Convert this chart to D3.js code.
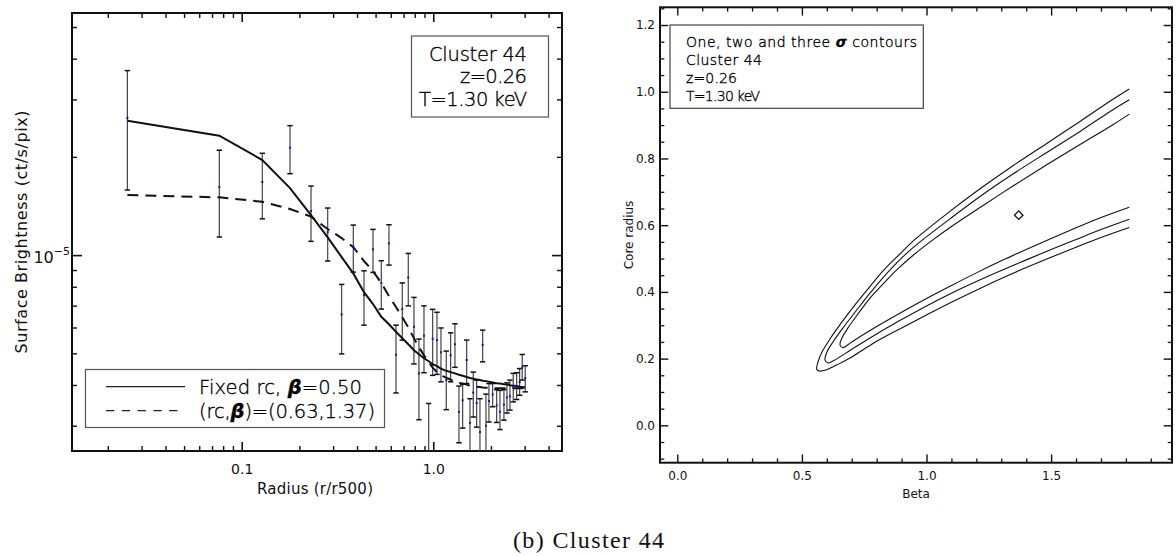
<!DOCTYPE html>
<html>
<head>
<meta charset="utf-8">
<script src="https://cdn.jsdelivr.net/npm/d3@7"></script>
<style>
  body { margin: 0; background: #fff; }
  svg { display: block; }
</style>
</head>
<body>
<svg id="chart" width="1176" height="556"></svg>
<script>
// ---------- surface brightness profile (left panel) ----------
const unit = 1e-5;
const radius = [0.0253, 0.0764, 0.1281, 0.1787, 0.2300, 0.2811, 0.3324, 0.3824, 0.4348, 0.4845,
  0.5354, 0.5870, 0.6389, 0.6891, 0.7406, 0.7929, 0.8420, 0.8943, 0.9463, 0.9928,
  1.0455, 1.0969, 1.1691, 1.2324, 1.2979, 1.3618, 1.4236, 1.4938, 1.5543, 1.6175,
  1.6849, 1.7530, 1.8108, 1.8842, 1.9529, 2.0418, 2.1424, 2.2289, 2.3388, 2.4248,
  2.5135, 2.6152, 2.7246, 2.8243, 2.9141, 3.0210];
const brightness = [2.632, 1.616, 1.675, 2.134, 1.365, 1.176, 0.658, 1.063, 0.754, 1.041,
  0.822, 1.086, 0.495, 0.683, 0.854, 0.603, 0.434, 0.566, 0.251, 0.554,
  0.549, 0.504, 0.414, 0.493, 0.533, 0.331, 0.359, 0.477, 0.306, 0.379,
  0.352, 0.287, 0.531, 0.300, 0.357, 0.374, 0.346, 0.331, 0.348, 0.366,
  0.369, 0.395, 0.397, 0.408, 0.453, 0.420];
const errHigh = [3.676, 2.096, 2.051, 2.493, 1.628, 1.394, 0.813, 1.236, 0.895, 1.199,
  0.961, 1.239, 0.610, 0.822, 1.012, 0.742, 0.553, 0.699, 0.351, 0.682,
  0.668, 0.598, 0.508, 0.578, 0.616, 0.397, 0.402, 0.549, 0.363, 0.438,
  0.414, 0.363, 0.589, 0.375, 0.404, 0.404, 0.387, 0.385, 0.387, 0.406,
  0.414, 0.434, 0.436, 0.449, 0.496, 0.458];
const errLow = [1.583, 1.136, 1.292, 1.776, 1.102, 0.959, 0.498, 0.887, 0.610, 0.885,
  0.683, 0.932, 0.378, 0.549, 0.699, 0.464, 0.313, 0.436, 0.170, 0.428,
  0.431, 0.409, 0.336, 0.409, 0.453, 0.266, 0.295, 0.404, 0.240, 0.319,
  0.297, 0.220, 0.471, 0.230, 0.308, 0.343, 0.307, 0.292, 0.312, 0.328,
  0.335, 0.355, 0.361, 0.372, 0.414, 0.381];
// beta model with fixed core radius, beta = 0.50
const fixedModel = [2.582, 2.323, 1.956, 1.605, 1.326, 1.133, 0.986, 0.879, 0.770, 0.708,
  0.647, 0.614, 0.582, 0.556, 0.533, 0.511, 0.497, 0.483, 0.473, 0.463,
  0.457, 0.449, 0.442, 0.438, 0.434, 0.430, 0.427, 0.423, 0.420, 0.418,
  0.416, 0.414, 0.412, 0.411, 0.409, 0.407, 0.405, 0.404, 0.402, 0.401,
  0.399, 0.398, 0.397, 0.395, 0.394, 0.393];
// free fit, (rc, beta) = (0.63, 1.37)
const freeModel = [1.528, 1.503, 1.457, 1.384, 1.312, 1.202, 1.128, 1.058, 0.959, 0.893,
  0.821, 0.749, 0.693, 0.645, 0.601, 0.556, 0.522, 0.493, 0.470, 0.452,
  0.438, 0.428, 0.421, 0.415, 0.411, 0.406, 0.404, 0.401, 0.398, 0.397,
  0.395, 0.394, 0.393, 0.392, 0.392, 0.391, 0.391, 0.391, 0.391, 0.391,
  0.391, 0.391, 0.391, 0.391, 0.391, 0.391];
const radiusMajorTicks = [0.1, 1.0];
const brightnessMajorTicks = [1e-5];
const legendLabels = ["Fixed rc, ", "=0.50", "(rc,", ")=(0.63,1.37)"];
const infoLines = ["Cluster 44", "z=0.26", "T=1.30 keV"];

// ---------- chi-square contours in the (beta, rc) plane (right panel) ----------
// each contour runs from the upper branch end, round the tip, to the lower branch end
const sigma3 = [[1.8138,1.008],[1.7496,0.978],[1.6160,0.911],[1.4823,0.845],[1.3483,0.779],[1.2147,0.709],
  [1.0811,0.634],[0.9470,0.553],[0.8937,0.514],[0.8255,0.463],[0.7653,0.409],[0.7131,0.361],[0.6609,0.310],
  [0.6128,0.259],[0.5807,0.220],[0.5646,0.190],[0.5594,0.168],[0.5686,0.163],[0.5967,0.166],[0.65,0.185],
  [0.70,0.205],[0.80,0.252],[0.90,0.292],[1.0,0.331],[1.1,0.369],[1.2,0.405],[1.3,0.440],[1.4,0.473],
  [1.5,0.504],[1.6,0.534],[1.7,0.563],[1.8138,0.593]];
const sigma2 = [[1.8138,0.976],[1.7496,0.947],[1.6160,0.881],[1.4823,0.818],[1.3483,0.754],[1.2147,0.686],
  [1.0943,0.619],[0.9739,0.550],[0.9177,0.514],[0.8535,0.466],[0.7773,0.400],[0.7171,0.343],[0.6649,0.292],
  [0.6248,0.250],[0.6007,0.220],[0.5927,0.196],[0.6047,0.187],[0.63,0.195],[0.70,0.228],[0.80,0.274],
  [0.90,0.317],[1.0,0.358],[1.1,0.396],[1.2,0.431],[1.3,0.464],[1.4,0.496],[1.5,0.527],[1.6,0.557],
  [1.7,0.587],[1.8138,0.618]];
const sigma1 = [[1.8138,0.933],[1.7496,0.902],[1.6160,0.842],[1.4823,0.781],[1.3483,0.718],[1.2147,0.653],
  [1.10,0.596],[1.02,0.553],[0.95,0.512],[0.8804,0.466],[0.8335,0.430],[0.7773,0.385],[0.7251,0.334],
  [0.6849,0.292],[0.6609,0.262],[0.6529,0.241],[0.6649,0.233],[0.70,0.250],[0.80,0.296],[0.90,0.339],
  [1.0,0.380],[1.1,0.419],[1.2,0.457],[1.3,0.493],[1.4,0.527],[1.5,0.560],[1.6,0.592],[1.7,0.623],
  [1.8138,0.654]];
const bestFit = [1.37, 0.63];
const betaTicks = [0.0, 0.5, 1.0, 1.5];
const coreTicks = [0.0, 0.2, 0.4, 0.6, 0.8, 1.0, 1.2];
const contourInfo = ["One, two and three ", "\u03c3", " contours", "Cluster 44", "z=0.26", "T=1.30 keV"];
const caption = "(b) Cluster 44";

const SANS = "'DejaVu Sans', sans-serif";
const svg = d3.select("#chart").style("font-family", SANS);

function styleTicks(g, width) {
  g.select(".domain").remove();
  g.selectAll(".tick line").attr("stroke", "#111").attr("stroke-width", width);
}
function styleLabels(g, size) {
  g.selectAll("text").style("font-size", size + "px").style("font-family", SANS).attr("fill", "#111");
}
// thin, plot-style lettering used inside the boxes
function thin(t) {
  return t.style("font-weight", 200).attr("fill", "#000").attr("stroke", "#000").attr("stroke-width", 0.35);
}

// ================= left panel =================
const L = { x0: 72, x1: 562, y0: 13, y1: 451 };
const x = d3.scaleLog().domain([0.0130, 4.70]).range([L.x0, L.x1]);
const y = d3.scaleLog().domain([0.251e-5, 5.52e-5]).range([L.y1, L.y0]);
const isDecade = v => Math.abs(Math.log10(v) - Math.round(Math.log10(v))) < 1e-6;
const xMinor = x.ticks().filter(v => !isDecade(v));
const yMinor = y.ticks().filter(v => !isDecade(v));

const left = svg.append("g");
left.append("clipPath").attr("id", "clipL").append("rect")
  .attr("x", L.x0).attr("y", L.y0).attr("width", L.x1 - L.x0).attr("height", L.y1 - L.y0);

// ticks on all four sides
left.append("g").attr("transform", `translate(0,${L.y1})`)
  .call(d3.axisBottom(x).tickValues(xMinor).tickSize(-5).tickFormat(""))
  .call(g => styleTicks(g, 1.4));
left.append("g").attr("transform", `translate(0,${L.y1})`)
  .call(d3.axisBottom(x).tickValues(radiusMajorTicks).tickSize(-9).tickPadding(13).tickFormat(d3.format(".1f")))
  .call(g => styleTicks(g, 1.6))
  .call(g => styleLabels(g, 14));
left.append("g").attr("transform", `translate(0,${L.y0})`)
  .call(d3.axisTop(x).tickValues(xMinor).tickSize(-5).tickFormat(""))
  .call(g => styleTicks(g, 1.4));
left.append("g").attr("transform", `translate(0,${L.y0})`)
  .call(d3.axisTop(x).tickValues(radiusMajorTicks).tickSize(-9).tickFormat(""))
  .call(g => styleTicks(g, 1.6));
left.append("g").attr("transform", `translate(${L.x0},0)`)
  .call(d3.axisLeft(y).tickValues(yMinor).tickSize(-5).tickFormat(""))
  .call(g => styleTicks(g, 1.4));
left.append("g").attr("transform", `translate(${L.x0},0)`)
  .call(d3.axisLeft(y).tickValues(brightnessMajorTicks).tickSize(-10).tickFormat(""))
  .call(g => styleTicks(g, 1.6));
left.append("g").attr("transform", `translate(${L.x1},0)`)
  .call(d3.axisRight(y).tickValues(yMinor).tickSize(-5).tickFormat(""))
  .call(g => styleTicks(g, 1.4));
left.append("g").attr("transform", `translate(${L.x1},0)`)
  .call(d3.axisRight(y).tickValues(brightnessMajorTicks).tickSize(-10).tickFormat(""))
  .call(g => styleTicks(g, 1.6));

// 10^-5 label
brightnessMajorTicks.forEach(v => {
  const t = left.append("text").attr("x", 70).attr("y", y(v) + 7.5).attr("text-anchor", "end")
    .style("font-size", "16px").attr("fill", "#111");
  t.append("tspan").text("10");
  t.append("tspan").style("font-size", "11px").attr("dy", -8).text("\u2212" + Math.round(-Math.log10(v)));
});

left.append("rect").attr("x", L.x0).attr("y", L.y0).attr("width", L.x1 - L.x0).attr("height", L.y1 - L.y0)
  .attr("fill", "none").attr("stroke", "#111").attr("stroke-width", 2);

const plotL = left.append("g").attr("clip-path", "url(#clipL)");

// error bars
const pts = radius.map((r, i) => ({ r, v: brightness[i] * unit, lo: errLow[i] * unit, hi: errHigh[i] * unit }));
const bars = plotL.append("g");
bars.selectAll("line.err").data(pts).join("line").attr("class", "err")
  .attr("x1", d => x(d.r)).attr("x2", d => x(d.r))
  .attr("y1", d => y(d.lo)).attr("y2", d => y(d.hi))
  .attr("stroke", "#444").attr("stroke-width", 1.2);
bars.selectAll("line.capHi").data(pts).join("line").attr("class", "capHi")
  .attr("x1", d => x(d.r) - 2.7).attr("x2", d => x(d.r) + 2.7)
  .attr("y1", d => y(d.hi)).attr("y2", d => y(d.hi))
  .attr("stroke", "#111").attr("stroke-width", 1.5);
bars.selectAll("line.capLo").data(pts).join("line").attr("class", "capLo")
  .attr("x1", d => x(d.r) - 2.7).attr("x2", d => x(d.r) + 2.7)
  .attr("y1", d => y(d.lo)).attr("y2", d => y(d.lo))
  .attr("stroke", "#111").attr("stroke-width", 1.5);

// model curves
const modelLine = d3.line().x(d => x(d[0])).y(d => y(d[1] * unit));
plotL.append("path").datum(radius.map((r, i) => [r, fixedModel[i]]))
  .attr("d", modelLine).attr("fill", "none").attr("stroke", "#111").attr("stroke-width", 2);
plotL.append("path").datum(radius.map((r, i) => [r, freeModel[i]]))
  .attr("d", modelLine).attr("fill", "none").attr("stroke", "#111").attr("stroke-width", 2)
  .attr("stroke-dasharray", "11,7");

// data points
plotL.append("g").selectAll("rect").data(pts).join("rect")
  .attr("x", d => x(d.r) - 1).attr("y", d => y(d.v) - 1).attr("width", 2).attr("height", 2)
  .attr("fill", "#1010c8");

// info box
left.append("rect").attr("x", 411.5).attr("y", 36).attr("width", 137).attr("height", 81)
  .attr("fill", "#fff").attr("stroke", "#555").attr("stroke-width", 1.2);
const infoWidths = [98, 67, 108];
infoLines.forEach((s, i) => {
  thin(left.append("text").attr("x", 527).attr("y", 60.5 + i * 22.8).attr("text-anchor", "end")
    .style("font-size", "19.5px").attr("textLength", infoWidths[i]).text(s));
});

// legend
left.append("rect").attr("x", 85.5).attr("y", 369.5).attr("width", 299).attr("height", 58)
  .attr("fill", "#fff").attr("stroke", "#555").attr("stroke-width", 1.2);
left.append("line").attr("x1", 106).attr("x2", 185).attr("y1", 386.7).attr("y2", 386.7)
  .attr("stroke", "#222").attr("stroke-width", 1.3);
left.append("line").attr("x1", 106).attr("x2", 179).attr("y1", 410.7).attr("y2", 410.7)
  .attr("stroke", "#222").attr("stroke-width", 1.3).attr("stroke-dasharray", "8.3,7.5");
const lg1 = thin(left.append("text").attr("x", 199).attr("y", 394).style("font-size", "19.5px")
  .attr("textLength", 163));
lg1.append("tspan").text(legendLabels[0]);
lg1.append("tspan").style("font-style", "italic").style("font-weight", 700).text("\u03b2");
lg1.append("tspan").text(legendLabels[1]);
const lg2 = thin(left.append("text").attr("x", 199).attr("y", 417.5).style("font-size", "19.5px")
  .attr("textLength", 176));
lg2.append("tspan").text(legendLabels[2]);
lg2.append("tspan").style("font-style", "italic").style("font-weight", 700).text("\u03b2");
lg2.append("tspan").text(legendLabels[3]);

// axis titles
left.append("text").attr("x", 315).attr("y", 494).attr("text-anchor", "middle")
  .style("font-size", "15px").attr("fill", "#111").attr("textLength", 116).text("Radius (r/r500)");
left.append("text").attr("transform", `translate(26.5,${(L.y0 + L.y1) / 2}) rotate(-90)`)
  .attr("text-anchor", "middle").style("font-size", "16px").attr("fill", "#111")
  .attr("textLength", 243).text("Surface Brightness (ct/s/pix)");

// ================= right panel =================
const R = { x0: 660, x1: 1172, y0: 7.3, y1: 462.7 };
const xb = d3.scaleLinear().domain([-0.0694, 1.985]).range([R.x0, R.x1]);
const yr = d3.scaleLinear().domain([-0.112, 1.2531]).range([R.y1, R.y0]);
const betaMinor = d3.range(0, 1.95, 0.1).filter(v => !betaTicks.some(t => Math.abs(t - v) < 1e-6));
const coreMinor = d3.range(-0.1, 1.26, 0.05).filter(v => !coreTicks.some(t => Math.abs(t - v) < 1e-6));

const right = svg.append("g");
right.append("g").attr("transform", `translate(0,${R.y1})`)
  .call(d3.axisBottom(xb).tickValues(betaMinor).tickSize(-4.3).tickFormat(""))
  .call(g => styleTicks(g, 1.3));
right.append("g").attr("transform", `translate(0,${R.y1})`)
  .call(d3.axisBottom(xb).tickValues(betaTicks).tickSize(-8.3).tickPadding(9).tickFormat(d3.format(".1f")))
  .call(g => styleTicks(g, 1.4))
  .call(g => styleLabels(g, 12));
right.append("g").attr("transform", `translate(0,${R.y0})`)
  .call(d3.axisTop(xb).tickValues(betaMinor).tickSize(-4.3).tickFormat(""))
  .call(g => styleTicks(g, 1.3));
right.append("g").attr("transform", `translate(0,${R.y0})`)
  .call(d3.axisTop(xb).tickValues(betaTicks).tickSize(-8.3).tickFormat(""))
  .call(g => styleTicks(g, 1.4));
right.append("g").attr("transform", `translate(${R.x0},0)`)
  .call(d3.axisLeft(yr).tickValues(coreMinor).tickSize(-4.3).tickFormat(""))
  .call(g => styleTicks(g, 1.3));
right.append("g").attr("transform", `translate(${R.x0},0)`)
  .call(d3.axisLeft(yr).tickValues(coreTicks).tickSize(-8.3).tickPadding(5).tickFormat(d3.format(".1f")))
  .call(g => styleTicks(g, 1.4))
  .call(g => styleLabels(g, 12));
right.append("g").attr("transform", `translate(${R.x1},0)`)
  .call(d3.axisRight(yr).tickValues(coreMinor).tickSize(-4.3).tickFormat(""))
  .call(g => styleTicks(g, 1.3));
right.append("g").attr("transform", `translate(${R.x1},0)`)
  .call(d3.axisRight(yr).tickValues(coreTicks).tickSize(-8.3).tickFormat(""))
  .call(g => styleTicks(g, 1.4));

right.append("rect").attr("x", R.x0).attr("y", R.y0).attr("width", R.x1 - R.x0).attr("height", R.y1 - R.y0)
  .attr("fill", "none").attr("stroke", "#111").attr("stroke-width", 2);

// contours
const contourLine = d3.line().x(d => xb(d[0])).y(d => yr(d[1])).curve(d3.curveCatmullRom.alpha(0.5));
[sigma1, sigma2, sigma3].forEach(c => {
  right.append("path").datum(c).attr("d", contourLine)
    .attr("fill", "none").attr("stroke", "#111").attr("stroke-width", 1.1);
});

// best fit marker
right.append("path").attr("d", d3.symbol(d3.symbolSquare, 36)())
  .attr("transform", `translate(${xb(bestFit[0])},${yr(bestFit[1])}) rotate(45)`)
  .attr("fill", "none").attr("stroke", "#111").attr("stroke-width", 1.3);

// info box
right.append("rect").attr("x", 670).attr("y", 25).attr("width", 253.3).attr("height", 83.3)
  .attr("fill", "#fff").attr("stroke", "#444").attr("stroke-width", 1.2);
const ci = thin(right.append("text").attr("x", 686).attr("y", 46.5).style("font-size", "14px")
  .attr("textLength", 231));
ci.append("tspan").text(contourInfo[0]);
ci.append("tspan").style("font-style", "italic").style("font-weight", 700).text(contourInfo[1]);
ci.append("tspan").text(contourInfo[2]);
const ciWidths = [76, 51, 74];
contourInfo.slice(3).forEach((s, i) => {
  thin(right.append("text").attr("x", 686).attr("y", 64.8 + i * 18.2).style("font-size", "14px")
    .attr("textLength", ciWidths[i]).text(s));
});

// axis titles
right.append("text").attr("x", (R.x0 + R.x1) / 2).attr("y", 498).attr("text-anchor", "middle")
  .style("font-size", "12px").attr("fill", "#111").text("Beta");
right.append("text").attr("transform", `translate(633,${(R.y0 + R.y1) / 2}) rotate(-90)`)
  .attr("text-anchor", "middle").style("font-size", "12px").attr("fill", "#111").text("Core radius");

// ================= caption =================
svg.append("text").attr("x", 588.5).attr("y", 548).attr("text-anchor", "middle")
  .style("font-family", "'Liberation Serif', 'DejaVu Serif', serif").style("font-size", "24px")
  .attr("fill", "#111").attr("textLength", 151).text(caption);
</script>
</body>
</html>
